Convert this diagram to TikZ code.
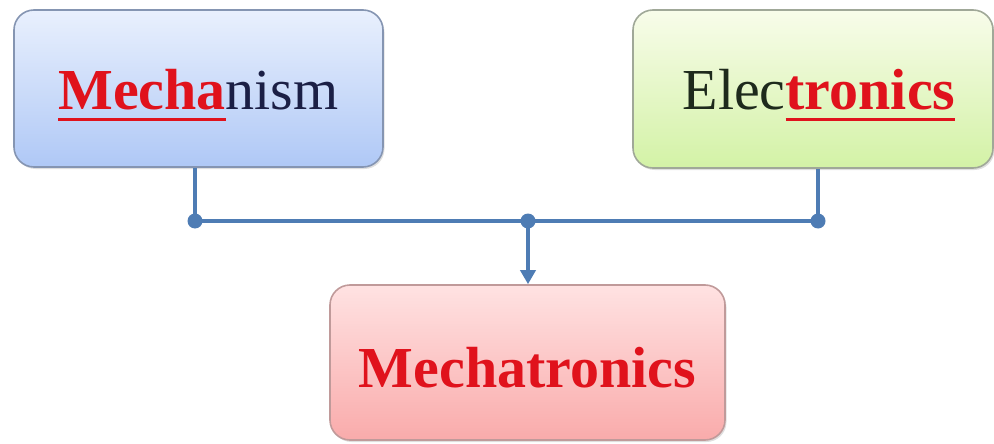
\documentclass[tikz,border=0pt]{standalone}
\usepackage{fontspec}
\setmainfont{Liberation Serif}
\usetikzlibrary{arrows.meta,shadows}
\definecolor{txtred}{HTML}{E0121C}
\definecolor{navy}{HTML}{1B1F45}
\definecolor{dkgreen}{HTML}{1E2A1C}
\definecolor{linkblue}{HTML}{4E7CB4}
\definecolor{bluetop}{HTML}{E9F0FD}
\definecolor{bluebot}{HTML}{AFC8F6}
\definecolor{blueedge}{HTML}{8595B2}
\definecolor{greentop}{HTML}{F8FCEA}
\definecolor{greenbot}{HTML}{D3F2A6}
\definecolor{greenedge}{HTML}{A0A898}
\definecolor{pinktop}{HTML}{FFE2E2}
\definecolor{pinkbot}{HTML}{F9ABAB}
\definecolor{pinkedge}{HTML}{C09A9A}
\newcommand\myul[1]{\setbox0\hbox{#1}\rlap{\raisebox{-11pt}{\color{txtred}\rule{\wd0}{3.2pt}}}\box0}
\tikzset{
  boxstyle/.style={draw, line width=1.6pt, rounded corners=20pt, inner sep=0pt,
    drop shadow={shadow xshift=1.5pt, shadow yshift=-2pt, opacity=0.25}},
  labelstyle/.style={anchor=base, inner sep=0pt, font=\fontsize{58}{60}\selectfont},
  link/.style={draw=linkblue, line width=4.5pt},
  dotstyle/.style={circle, fill=linkblue, inner sep=0pt, minimum size=15pt}
}
\begin{document}
\begin{tikzpicture}[x=1pt,y=1pt]
\useasboundingbox (0,0) rectangle (994,-444);
% boxes
\node[boxstyle, draw=blueedge, top color=bluetop, bottom color=bluebot, minimum width=369pt, minimum height=157pt] (mech) at (198.5,-88.5) {};
\node[boxstyle, draw=greenedge, top color=greentop, bottom color=greenbot, minimum width=360pt, minimum height=158pt] (elec) at (813,-89) {};
\node[boxstyle, draw=pinkedge, top color=pinktop, bottom color=pinkbot, minimum width=395pt, minimum height=155pt] (mtr) at (527.5,-362.5) {};
% labels
\node[labelstyle] (mechtxt) at (198.5,-110) {\myul{\textbf{\color{txtred}Mecha}}\color{navy}nism};
\node[labelstyle] (electxt) at (819,-110) {\color{dkgreen}Elec\myul{\textbf{\color{txtred}tronics}}};
\node[labelstyle] (mtrtxt) at (527.5,-387) {\textbf{\color{txtred}Mechatronics}};
% connectors
\coordinate (bl) at (195,-221);
\coordinate (br) at (818,-221);
\coordinate (bm) at (528,-221);
\draw[link] (mech.south -| bl) -- (bl);
\draw[link] (elec.south -| br) -- (br);
\draw[link] (bl) -- (br);
\draw[link, -{Triangle[length=14pt,width=15pt]}] (bm) -- (bm |- mtr.north);
\node[dotstyle] (dl) at (bl) {};
\node[dotstyle] (dr) at (br) {};
\node[dotstyle] (dm) at (bm) {};
\end{tikzpicture}
\end{document}
